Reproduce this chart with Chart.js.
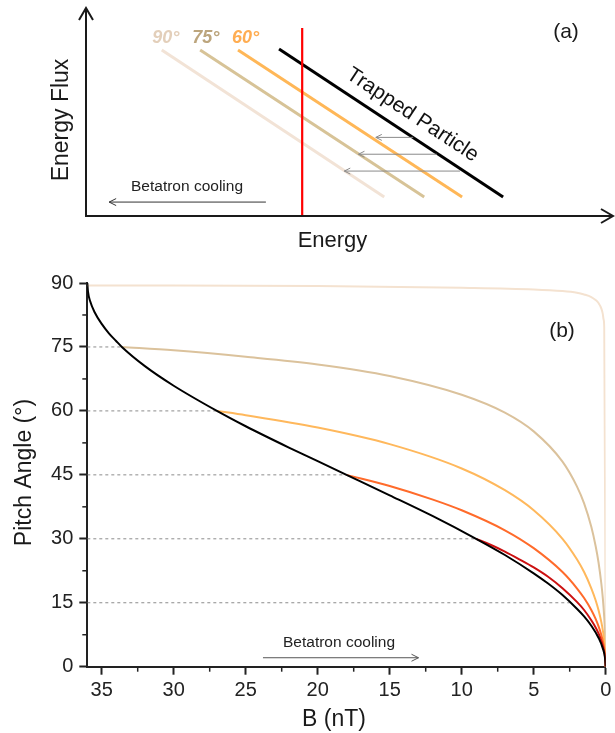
<!DOCTYPE html>
<html>
<head>
<meta charset="utf-8">
<script src="https://cdn.jsdelivr.net/npm/chart.js@4.4.1/dist/chart.umd.min.js"></script>
<style>
html,body{margin:0;padding:0;background:#fff;overflow:hidden;}
#wrap{position:relative;width:615px;height:733px;}
#ca{position:absolute;left:0;top:0;width:615px;height:262px;}
#cb{position:absolute;left:0;top:250px;width:615px;height:483px;}
</style>
</head>
<body>
<div id="wrap">
<canvas id="ca" width="615" height="262"></canvas>
<canvas id="cb" width="615" height="483"></canvas>
</div>
<script>
// ================= Panel (a): schematic energy spectra (arbitrary units 0..100) =================
const spectrumLabels = ['90°', '75°', '60°'];
const line90X = [14.4, 56.7],  line90Y = [79.8, 9.1];
const line75X = [21.7, 64.3],  line75Y = [79.8, 9.1];
const line60X = [28.9, 71.5],  line60Y = [79.8, 9.1];
const trappedX = [36.7, 79.3], trappedY = [80.3, 9.1];
const redLineX = [41.1, 41.1], redLineY = [90.4, 0];
const shiftArrowY    = [37.8, 29.7, 21.6];
const shiftArrowFrom = [62.2, 66.7, 71.1];
const shiftArrowTo   = [55.1, 51.8, 49.1];
const coolArrowAX = [34.2, 4.4], coolArrowAY = [6.7, 6.7];

// ================= Panel (b): pitch angle vs B =================
const xTicks = [0, 5, 10, 15, 20, 25, 30, 35];
const yTicks = [0, 15, 30, 45, 60, 75, 90];
const xMinorTicks = [2.5, 7.5, 12.5, 17.5, 22.5, 27.5, 32.5];
const yMinorTicks = [7.5, 22.5, 37.5, 52.5, 67.5, 82.5];

const blackB = [36, 35.95, 35.8, 35.5, 35, 34.5, 34, 33.6, 32, 30, 27, 25, 22, 20, 18, 15, 12, 9, 7, 5, 4, 3, 2, 1.5, 1, 0.5, 0.2, 0.05, 0];
const blackA = [90, 87.9, 85.7, 83.2, 80.4, 78.2, 76.4, 75, 70.5, 65.9, 60, 56.4, 51.4, 48.2, 45, 40.2, 35.3, 30, 26.2, 21.9, 19.5, 16.8, 13.6, 11.8, 9.6, 6.8, 4.3, 2.1, 0];

const curve90B = [36, 30, 20, 10, 5, 3, 2, 1.5, 1, 0.7, 0.5, 0.3, 0.2, 0.15, 0.1, 0];
const curve90A = [89.4, 89.4, 89.3, 88.9, 88.5, 88.1, 87.7, 87.3, 86.7, 86.0, 85.3, 84.0, 82.7, 81.5, 79.6, 0];

const curve75B = [33.6, 30, 25, 20, 15, 10, 7, 5, 3, 2, 1.5, 1, 0.7, 0.5, 0.3, 0.2, 0.1, 0.05, 0.02, 0];
const curve75A = [75, 74.2, 72.7, 70.9, 68.2, 63.8, 59.6, 55.2, 48.1, 42.3, 38.3, 32.8, 28.3, 24.5, 19.4, 16.1, 11.5, 8.2, 5.2, 0];

const curve60B = [27, 25, 20, 15, 10, 7, 5, 3, 2, 1.5, 1, 0.7, 0.5, 0.3, 0.2, 0.1, 0.05, 0.02, 0];
const curve60A = [60, 59.0, 56.1, 52.2, 46.5, 41.4, 36.7, 30, 25.2, 22.2, 18.4, 15.6, 13.3, 10.4, 8.5, 6.0, 4.3, 2.7, 0];

const curve45B = [18, 15, 12, 10, 7, 5, 3, 2, 1.5, 1, 0.7, 0.5, 0.3, 0.2, 0.1, 0.05, 0.02, 0];
const curve45A = [45, 42.4, 39.2, 36.7, 32.0, 27.8, 22.2, 18.4, 16.1, 13.3, 11.2, 9.5, 7.4, 6.0, 4.3, 3.0, 1.9, 0];

const curve30B = [9, 8, 7, 6, 5, 4, 3, 2, 1.5, 1, 0.7, 0.5, 0.3, 0.2, 0.1, 0.05, 0.02, 0];
const curve30A = [30, 28.6, 27.0, 25.2, 23.3, 21.1, 18.4, 15.2, 13.3, 10.9, 9.2, 7.8, 6.0, 4.9, 3.5, 2.5, 1.6, 0];

const dashLevels = [15, 30, 45, 60, 75];
const dashEndB   = [2.41, 9, 18, 27, 33.6];
const coolArrowBX = [23.8, 13.0], coolArrowBY = [2.1, 2.1];

// ================= helpers =================
const FONT = '"Liberation Sans", Arial, sans-serif';
const pts = (xs, ys) => xs.map((x, i) => ({x: x, y: ys[i]}));

function chevron(ctx, tipX, tipY, dirX, dirY, len, half, color, lw) {
  const n = Math.hypot(dirX, dirY) || 1;
  const ux = dirX / n, uy = dirY / n;
  const bx = tipX - ux * len, by = tipY - uy * len;
  const px = -uy, py = ux;
  ctx.save();
  ctx.strokeStyle = color; ctx.lineWidth = lw; ctx.lineJoin = 'miter'; ctx.lineCap = 'butt';
  ctx.beginPath();
  ctx.moveTo(bx + px * half, by + py * half);
  ctx.lineTo(tipX, tipY);
  ctx.lineTo(bx - px * half, by - py * half);
  ctx.stroke();
  ctx.restore();
}

const arrowHeads = {
  id: 'arrowHeads',
  afterDatasetsDraw(chart) {
    chart.data.datasets.forEach((ds, i) => {
      if (!ds.arrowTip) return;
      const p = chart.getDatasetMeta(i).data;
      const tip = p[p.length - 1], prev = p[p.length - 2];
      chevron(chart.ctx, tip.x, tip.y, tip.x - prev.x, tip.y - prev.y,
              ds.arrowLen || 7, ds.arrowHalf || 3.5, ds.borderColor, ds.borderWidth);
    });
  }
};

function txt(ctx, s, x, y, font, color, align, baseline, rot) {
  ctx.save();
  ctx.translate(x, y);
  if (rot) ctx.rotate(rot);
  ctx.font = font; ctx.fillStyle = color;
  ctx.textAlign = align || 'center'; ctx.textBaseline = baseline || 'alphabetic';
  ctx.fillText(s, 0, 0);
  ctx.restore();
}

// ================= Chart (a) =================
const axesA = {
  id: 'axesA',
  afterDraw(chart) {
    const ctx = chart.ctx, a = chart.chartArea;
    const col = '#1a1a1a';
    ctx.save();
    ctx.strokeStyle = col; ctx.lineWidth = 2;
    ctx.beginPath();
    ctx.moveTo(a.left, a.top); ctx.lineTo(a.left, a.bottom); ctx.lineTo(a.right + 1, a.bottom);
    ctx.stroke();
    ctx.restore();
    chevron(ctx, a.left, a.top, 0, -1, 12, 7, col, 2);
    chevron(ctx, a.right + 1, a.bottom, 1, 0, 12, 7, col, 2);
    // texts
    txt(ctx, 'Energy Flux', 68, 120, '23px ' + FONT, '#1a1a1a', 'center', 'alphabetic', -Math.PI / 2);
    txt(ctx, 'Energy', 332.5, 246.5, '22px ' + FONT, '#1a1a1a', 'center', 'alphabetic');
    txt(ctx, '(a)', 566, 37.5, '21px ' + FONT, '#1a1a1a', 'center', 'alphabetic');
    txt(ctx, 'Betatron cooling', 187, 191, '15.5px ' + FONT, '#222', 'center', 'alphabetic');
    const labCols = ['#e3cfba', '#bca57d', '#ffad52'];
    const labX = [165.8, 205.8, 245.5];
    spectrumLabels.forEach((s, i) => txt(ctx, s, labX[i], 42.7, 'italic bold 18px ' + FONT, labCols[i], 'center', 'alphabetic'));
    txt(ctx, 'Trapped Particle', 412.5, 115, '21px ' + FONT, '#111', 'center', 'middle', Math.atan2(148, 224));
  }
};

const lineDS = (xs, ys, color, w, extra) => Object.assign({
  data: pts(xs, ys), showLine: true, borderColor: color, backgroundColor: color,
  borderWidth: w, pointRadius: 0, fill: false, tension: 0
}, extra || {});

const dsA = [];
shiftArrowY.forEach((y, i) => dsA.push(lineDS([shiftArrowFrom[i], shiftArrowTo[i]], [y, y], '#8a8a8a', 1, {arrowTip: true, arrowLen: 6, arrowHalf: 3})));
dsA.push(lineDS(coolArrowAX, coolArrowAY, '#333', 1, {arrowTip: true, arrowLen: 7, arrowHalf: 3.5}));
dsA.push(lineDS(redLineX, redLineY, '#ff0000', 2.2));
dsA.push(lineDS(trappedX, trappedY, '#000000', 3));
dsA.push(lineDS(line60X, line60Y, '#ffb757', 3));
dsA.push(lineDS(line75X, line75Y, '#d7c397', 3));
dsA.push(lineDS(line90X, line90Y, '#f2e3d6', 3));

new Chart(document.getElementById('ca'), {
  type: 'scatter',
  data: {datasets: dsA},
  options: {
    responsive: false, animation: false, devicePixelRatio: 1,
    layout: {padding: {left: 86, right: 3, top: 8, bottom: 46}},
    scales: {
      x: {display: false, min: 0, max: 100},
      y: {display: false, min: 0, max: 100}
    },
    plugins: {legend: {display: false}, tooltip: {enabled: false}},
    elements: {point: {radius: 0}}
  },
  plugins: [axesA, arrowHeads]
});

// ================= Chart (b) =================
const curveDS = (xs, ys, color, w) => lineDS(xs, ys, color, w, {cubicInterpolationMode: 'monotone'});
const dsB = [];
dsB.push(lineDS(coolArrowBX, coolArrowBY, '#555', 1, {arrowTip: true, arrowLen: 7, arrowHalf: 3.5}));
dsB.push(curveDS(blackB, blackA, '#000000', 2));
dsB.push(curveDS(curve30B, curve30A, '#cc1111', 2));
dsB.push(curveDS(curve45B, curve45A, '#ff6b2b', 2));
dsB.push(curveDS(curve60B, curve60A, '#ffb85c', 2));
dsB.push(curveDS(curve75B, curve75A, '#dbc29c', 2));
dsB.push(curveDS(curve90B, curve90A, '#f4e2d0', 2));
dashLevels.forEach((lv, i) => dsB.push(lineDS([36, dashEndB[i]], [lv, lv], '#8c8c8c', 1, {borderDash: [3, 3]})));

const decorB = {
  id: 'decorB',
  afterDraw(chart) {
    const ctx = chart.ctx, xs = chart.scales.x, ys = chart.scales.y, a = chart.chartArea;
    ctx.save();
    ctx.strokeStyle = '#222'; ctx.lineWidth = 1.5;
    xMinorTicks.forEach(v => {
      const x = xs.getPixelForValue(v);
      ctx.beginPath(); ctx.moveTo(x, a.bottom); ctx.lineTo(x, a.bottom + 5); ctx.stroke();
    });
    yMinorTicks.forEach(v => {
      const y = ys.getPixelForValue(v);
      ctx.beginPath(); ctx.moveTo(a.left, y); ctx.lineTo(a.left - 5, y); ctx.stroke();
    });
    ctx.restore();
    txt(ctx, '(b)', 562, 87, '21px ' + FONT, '#1a1a1a', 'center', 'alphabetic');
    txt(ctx, 'Betatron cooling', 339, 397, '15.5px ' + FONT, '#222', 'center', 'alphabetic');
    txt(ctx, 'Pitch Angle (°)', 30.5, 222.5, '23px ' + FONT, '#1a1a1a', 'center', 'alphabetic', -Math.PI / 2);
    txt(ctx, 'B (nT)', 334, 476, '23px ' + FONT, '#1a1a1a', 'center', 'alphabetic');
  }
};

new Chart(document.getElementById('cb'), {
  type: 'scatter',
  data: {datasets: dsB},
  options: {
    responsive: false, animation: false, devicePixelRatio: 1,
    layout: {padding: {left: 0, right: 9.3, top: 33, bottom: 0}},
    scales: {
      x: {
        type: 'linear', reverse: true, min: 0, max: 36,
        afterBuildTicks: s => { s.ticks = xTicks.map(v => ({value: v})); },
        afterFit: s => { s.height = 66.3; },
        grid: {drawOnChartArea: false, drawTicks: true, tickLength: 8, tickWidth: 2, tickColor: '#222'},
        border: {display: true, color: '#222', width: 2},
        ticks: {font: {family: FONT, size: 20}, color: '#222', padding: 4, maxRotation: 0, autoSkip: false}
      },
      y: {
        type: 'linear', min: 0, max: 90,
        afterBuildTicks: s => { s.ticks = yTicks.map(v => ({value: v})); },
        afterFit: s => { s.width = 87.3; },
        grid: {drawOnChartArea: false, drawTicks: true, tickLength: 8, tickWidth: 2, tickColor: '#222'},
        border: {display: true, color: '#222', width: 2},
        ticks: {font: {family: FONT, size: 20}, color: '#222', padding: 6, autoSkip: false}
      }
    },
    plugins: {legend: {display: false}, tooltip: {enabled: false}},
    elements: {point: {radius: 0}}
  },
  plugins: [decorB, arrowHeads]
});
</script>
</body>
</html>
